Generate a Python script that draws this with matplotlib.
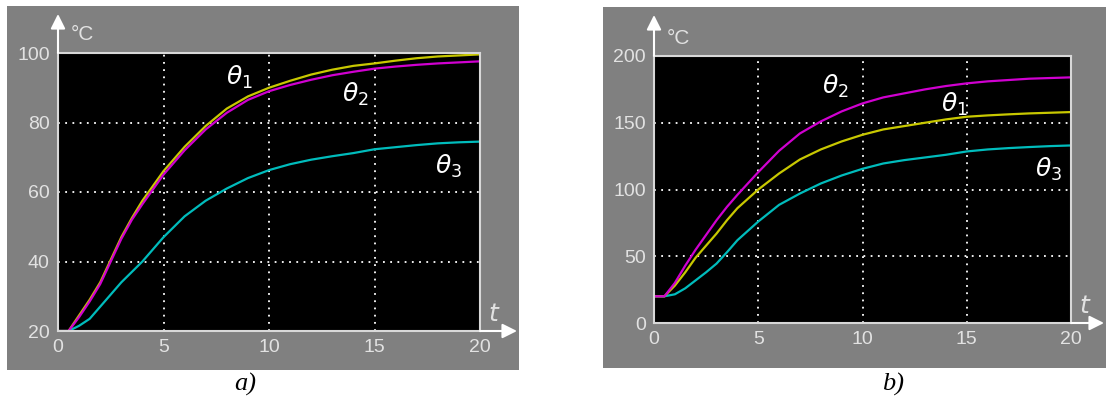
import numpy as np
import matplotlib
matplotlib.use("Agg")
import matplotlib.pyplot as plt
from matplotlib.patches import Rectangle

# time points (s)
t = [0, 0.5, 1, 1.5, 2, 2.5, 3, 3.5, 4, 5, 6, 7, 8, 9, 10, 11, 12, 13, 14, 15, 16, 17, 18, 19, 20]

# panel a) temperatures
a_theta1 = [20, 20, 24.5, 29, 34, 40.5, 47, 52.5, 57.5, 66, 73, 79, 84, 87.5, 90, 92, 93.8, 95.2, 96.3, 97, 97.8, 98.5, 99, 99.3, 99.6]
a_theta2 = [20, 20, 24, 28.5, 33.5, 40, 46.5, 52, 56.5, 65, 72, 78, 82.8, 86.5, 89, 90.8, 92.3, 93.6, 94.6, 95.5, 96.1, 96.6, 97, 97.3, 97.6]
a_theta3 = [20, 20, 21.5, 23.5, 27, 30.5, 34, 37, 40, 47, 53, 57.5, 61, 64, 66.3, 68, 69.3, 70.3, 71.2, 72.3, 72.9, 73.5, 74, 74.3, 74.5]

# panel b) temperatures
b_theta1 = [20, 20, 28, 38, 49, 58, 67, 77, 86, 100, 112, 122.5, 130, 136, 141, 145, 147.5, 150, 152.5, 154.5, 155.5, 156.3, 157, 157.5, 158]
b_theta2 = [20, 20, 30, 43, 55, 66, 77, 87, 96, 113, 129, 142, 151, 158.5, 164.5, 169, 172, 175, 177.5, 179.5, 181, 182, 183, 183.5, 184]
b_theta3 = [20, 20, 21.5, 26, 32, 38, 44.5, 53, 62, 76, 88.5, 97, 104.5, 110.5, 115.5, 119.5, 122, 124, 126, 128.5, 130, 131, 131.8, 132.5, 133]

W, H = 1106, 408
fig = plt.figure(figsize=(W / 100, H / 100), dpi=100)
fig.patch.set_facecolor("white")

GRAY = "#808080"
LIGHT = "#e2e2e2"
YEL = "#c8c800"
MAG = "#d000d0"
CYA = "#00bcbc"
tick_font = ["Liberation Sans Narrow", "Liberation Sans", "DejaVu Sans"]


def px(x0, y0, x1, y1):
    # pixel box -> figure fraction [left, bottom, width, height]
    return [x0 / W, 1 - y1 / H, (x1 - x0) / W, (y1 - y0) / H]


def panel(bg, box, ylim, yticks, curves, labels, tag, tag_x):
    fig.patches.append(Rectangle((bg[0] / W, 1 - bg[3] / H), (bg[2] - bg[0]) / W,
                                 (bg[3] - bg[1]) / H, transform=fig.transFigure,
                                 facecolor=GRAY, edgecolor="none", zorder=-5))
    ax = fig.add_axes(px(*box))
    ax.set_zorder(2)
    ax.set_facecolor("black")
    for ys, c in curves:
        ax.plot(t, ys, color=c, lw=1.6)
    ax.set_xlim(0, 20)
    ax.set_ylim(*ylim)
    ax.set_xticks([0, 5, 10, 15, 20])
    ax.set_yticks(yticks)
    ax.grid(True, color="white", ls=(0, (1, 3)), lw=1.3)
    ax.tick_params(length=0, colors=LIGHT, labelsize=14, pad=6)
    for lab in ax.get_xticklabels() + ax.get_yticklabels():
        lab.set_family(tick_font)
    for s in ax.spines.values():
        s.set_color("#d8d8d8")
        s.set_linewidth(1.5)
    for name, x, y in labels:
        ax.text(x, y, name, color="white", fontsize=18, ha="center", va="center")

    # axis arrows
    x0, y0, x1, y1 = box
    ax.annotate("", xy=((bg[2] - 2) / W, 1 - y1 / H), xytext=(x1 / W, 1 - y1 / H),
                xycoords="figure fraction", annotation_clip=False,
                arrowprops=dict(arrowstyle="-|>", color="white", lw=1.5,
                                mutation_scale=22, shrinkA=0, shrinkB=0))
    ax.annotate("", xy=(x0 / W, 1 - (bg[1] + 8) / H), xytext=(x0 / W, 1 - y0 / H),
                xycoords="figure fraction", annotation_clip=False,
                arrowprops=dict(arrowstyle="-|>", color="white", lw=1.5,
                                mutation_scale=22, shrinkA=0, shrinkB=0))
    fig.text((x0 + 24) / W, 1 - (y0 - 18) / H, "°C", color=LIGHT, fontsize=15,
             family=tick_font, ha="center", va="center")
    fig.text((x1 + 14) / W, 1 - (y1 - 17) / H, "$t$", color=LIGHT, fontsize=18,
             ha="center", va="center")
    fig.text(tag_x / W, 1 - 384 / H, tag, fontsize=19, style="italic",
             family="Liberation Serif", ha="center", va="center")
    return ax


panel((7, 6, 519, 370), (58, 53, 480, 331), (20, 100), [20, 40, 60, 80, 100],
      [(a_theta1, YEL), (a_theta3, CYA), (a_theta2, MAG)],
      [(r"$\theta_1$", 8.6, 93), (r"$\theta_2$", 14.1, 88), (r"$\theta_3$", 18.5, 67.5)],
      "a)", 245)

panel((603, 7, 1106, 368), (654, 56, 1071, 323), (0, 200), [0, 50, 100, 150, 200],
      [(b_theta3, CYA), (b_theta1, YEL), (b_theta2, MAG)],
      [(r"$\theta_2$", 8.7, 177), (r"$\theta_1$", 14.4, 164), (r"$\theta_3$", 18.9, 115)],
      "b)", 893)

fig.savefig("out.png", dpi=100)
